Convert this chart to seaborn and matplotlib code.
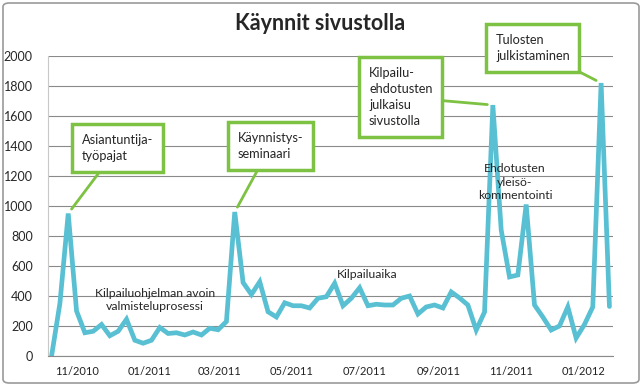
import matplotlib
matplotlib.use("Agg")
import matplotlib.pyplot as plt
import matplotlib.dates as mdates
from matplotlib.patches import FancyBboxPatch
import seaborn as sns
import pandas as pd

# weekly visits
visits = [0, 350, 950, 300, 155, 165, 210, 135, 165, 245, 105, 85,
          105, 190, 150, 155, 140, 160, 140, 185, 175, 230,
          960, 490, 410, 495, 295, 260, 355, 335, 335, 320,
          385, 395, 485, 335, 385, 455, 335, 345, 340, 340,
          385, 400, 280, 327, 340, 320, 427, 387, 340, 173,
          293, 1673, 840, 527, 540, 1010, 340, 260, 173, 200,
          327, 120, 210, 327, 1820, 330]
weeks = pd.date_range("2010-10-11", periods=len(visits), freq="7D")
y_ticks = [0, 200, 400, 600, 800, 1000, 1200, 1400, 1600, 1800, 2000]

title = "Käynnit sivustolla"
callouts = [  # text, index of the peak, text position (figure px)
    ("Asiantuntija-\ntyöpajat", 2, (82, 252)),
    ("Käynnistys-\nseminaari", 22, (238, 254)),
    ("Kilpailu-\nehdotusten\njulkaisu\nsivustolla", 53, (369, 319)),
    ("Tulosten\njulkistaminen", 66, (496, 352)),
]
notes = [
    ("Kilpailuohjelman avoin\nvalmisteluprosessi", (155, 86)),
    ("Kilpailuaika", (367, 111)),
    ("Ehdotusten\nyleisö-\nkommentointi", (515, 204)),
]

sns.set_style("white")
plt.rcParams["font.family"] = ["Lato", "DejaVu Sans"]

df = pd.DataFrame({"week": weeks, "visits": visits})

fig = plt.figure(figsize=(6.43, 3.86), dpi=100)
ax = fig.add_axes([48 / 643, 30 / 386, (613 - 48) / 643, 300 / 386])

sns.lineplot(data=df, x="week", y="visits", ax=ax, color="#58C0D2",
             linewidth=3.4, solid_joinstyle="miter")

ax.set_ylim(0, 2000)
ax.set_yticks(y_ticks)
ax.set_xlim(weeks[0] - pd.Timedelta(days=3), weeks[-1] + pd.Timedelta(days=3))
ax.xaxis.set_major_locator(mdates.MonthLocator(bymonth=[1, 3, 5, 7, 9, 11]))
ax.xaxis.set_major_formatter(mdates.DateFormatter("%m/%Y"))
ax.set_xlabel("")
ax.set_ylabel("")
ax.grid(axis="y", color="#8a8a8a", linewidth=0.8)
ax.grid(axis="x", visible=False)
ax.set_axisbelow(True)
for s in ["top", "right"]:
    ax.spines[s].set_visible(False)
ax.spines["left"].set_color("#c8c8c8")
ax.spines["bottom"].set_color("#8a8a8a")
ax.tick_params(axis="y", length=0, pad=11, labelsize=9)
ax.tick_params(axis="x", length=0, pad=7, labelsize=8, labelcolor="#222222")

fig.text(320 / 643, 1 - 23 / 386, title, ha="center", va="center",
         fontsize=15.5, fontweight="bold")

green = "#7DC242"
for text, i, pos in callouts:
    ax.annotate(text, xy=(weeks[i], visits[i]), xytext=pos,
                textcoords="figure pixels", ha="left", va="top",
                fontsize=9.2, linespacing=1.4,
                bbox=dict(boxstyle="square,pad=0.75", fc="white", ec=green, lw=2.5),
                arrowprops=dict(arrowstyle="-", color=green, lw=2,
                                shrinkA=0, shrinkB=4))

for text, pos in notes:
    fig.text(pos[0] / 643, pos[1] / 386, text, ha="center", va="center",
             fontsize=8.8, linespacing=1.3)

fig.patches.append(FancyBboxPatch((3 / 643, 3 / 386), 636 / 643, 380 / 386,
                                  boxstyle="round,pad=0,rounding_size=0.01",
                                  transform=fig.transFigure, fill=False,
                                  ec="#9a9a9a", lw=1.2))

fig.savefig("out.png", dpi=100)
